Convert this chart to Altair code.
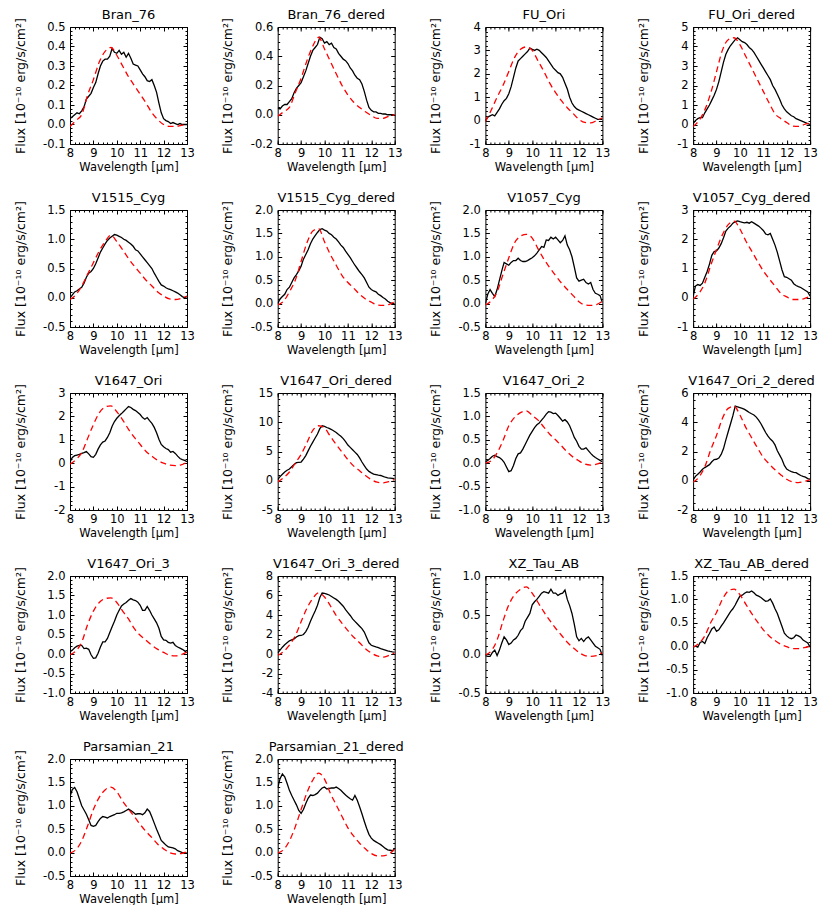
import math
import altair as alt
import pandas as pd

# ---------------- data ----------------
WAVE_OBS = [8.0, 8.1, 8.2, 8.3, 8.4, 8.5, 8.6, 8.7, 8.8, 8.9,
            9.0, 9.1, 9.2, 9.3, 9.4, 9.5, 9.6, 9.7, 9.8, 9.9,
            10.0, 10.1, 10.2, 10.3, 10.4, 10.5, 10.6, 10.7, 10.8, 10.9,
            11.0, 11.1, 11.2, 11.3, 11.4, 11.5, 11.6, 11.7, 11.8, 11.9,
            12.0, 12.1, 12.2, 12.3, 12.4, 12.5, 12.6, 12.7, 12.8, 12.9, 13.0]
WAVE_MODEL = [8.0, 8.25, 8.5, 8.75, 9.0, 9.25, 9.5, 9.75, 10.0, 10.25, 10.5,
              10.75, 11.0, 11.25, 11.5, 11.75, 12.0, 12.25, 12.5, 12.75, 13.0]

NAMES = ["Bran_76", "Bran_76_dered", "FU_Ori", "FU_Ori_dered",
         "V1515_Cyg", "V1515_Cyg_dered", "V1057_Cyg", "V1057_Cyg_dered",
         "V1647_Ori", "V1647_Ori_dered", "V1647_Ori_2", "V1647_Ori_2_dered",
         "V1647_Ori_3", "V1647_Ori_3_dered", "XZ_Tau_AB", "XZ_Tau_AB_dered",
         "Parsamian_21", "Parsamian_21_dered"]

Y_TICKS = [
    [-0.1, 0.0, 0.1, 0.2, 0.3, 0.4, 0.5],
    [-0.2, 0.0, 0.2, 0.4, 0.6],
    [-1, 0, 1, 2, 3, 4],
    [-1, 0, 1, 2, 3, 4, 5],
    [-0.5, 0.0, 0.5, 1.0, 1.5],
    [-0.5, 0.0, 0.5, 1.0, 1.5, 2.0],
    [-0.5, 0.0, 0.5, 1.0, 1.5, 2.0],
    [-1, 0, 1, 2, 3],
    [-2, -1, 0, 1, 2, 3],
    [-5, 0, 5, 10, 15],
    [-1.0, -0.5, 0.0, 0.5, 1.0, 1.5],
    [-2, 0, 2, 4, 6],
    [-1.0, -0.5, 0.0, 0.5, 1.0, 1.5, 2.0],
    [-4, -2, 0, 2, 4, 6, 8],
    [-0.5, 0.0, 0.5, 1.0],
    [-1.0, -0.5, 0.0, 0.5, 1.0, 1.5],
    [-0.5, 0.0, 0.5, 1.0, 1.5, 2.0],
    [-0.5, 0.0, 0.5, 1.0, 1.5, 2.0],
]

X_TICKS = [8, 9, 10, 11, 12, 13]

BRAN_76_OBS = [0.03, 0.04, 0.05, 0.06, 0.055, 0.07, 0.09, 0.13, 0.145, 0.16,
               0.19, 0.215, 0.26, 0.30, 0.325, 0.335, 0.335, 0.35, 0.39, 0.37,
               0.365, 0.38, 0.36, 0.37, 0.345, 0.365, 0.34, 0.31, 0.305, 0.30,
               0.28, 0.26, 0.245, 0.225, 0.22, 0.23, 0.20, 0.165, 0.11, 0.06,
               0.03, 0.02, 0.015, 0.005, 0.01, 0.005, 0.0, 0.005, 0.0, 0.0, 0.0]
BRAN_76_DERED_OBS = [0.045, 0.04, 0.06, 0.07, 0.07, 0.09, 0.11, 0.15, 0.18, 0.20,
                     0.22, 0.26, 0.30, 0.35, 0.40, 0.44, 0.46, 0.48, 0.53, 0.52,
                     0.49, 0.50, 0.48, 0.49, 0.46, 0.45, 0.42, 0.40, 0.38, 0.37,
                     0.35, 0.32, 0.30, 0.27, 0.25, 0.24, 0.21, 0.16, 0.10, 0.05,
                     0.03, 0.02, 0.02, 0.01, 0.01, 0.005, 0.005, 0.0, 0.0, 0.0, 0.0]
FU_ORI_OBS = [0.0, 0.15, 0.2, 0.25, 0.2, 0.35, 0.5, 0.7, 0.85, 0.95,
              1.15, 1.45, 1.85, 2.25, 2.55, 2.65, 2.75, 2.85, 2.95, 3.1,
              3.05, 3.0, 3.05, 3.0, 2.9, 2.8, 2.7, 2.55, 2.4, 2.25,
              2.15, 2.05, 2.0, 1.85, 1.6, 1.35, 1.0, 0.75, 0.6, 0.5,
              0.45, 0.4, 0.35, 0.3, 0.25, 0.2, 0.15, 0.1, 0.05, 0.05, 0.05]
FU_ORI_DERED_OBS = [0.05, 0.2, 0.3, 0.35, 0.35, 0.6, 0.8, 1.0, 1.25, 1.5,
                    1.8, 2.2, 2.7, 3.2, 3.6, 3.85, 4.05, 4.2, 4.35, 4.45,
                    4.35, 4.25, 4.2, 4.1, 3.95, 3.85, 3.7, 3.5, 3.3, 3.1,
                    2.9, 2.7, 2.5, 2.3, 2.0, 1.8, 1.55, 1.3, 1.0, 0.8,
                    0.65, 0.55, 0.45, 0.4, 0.3, 0.25, 0.2, 0.15, 0.1, 0.05, 0.0]
V1515_CYG_OBS = [0.0, 0.05, 0.1, 0.12, 0.15, 0.18, 0.25, 0.35, 0.42, 0.45,
                 0.5, 0.58, 0.68, 0.78, 0.85, 0.92, 0.98, 1.02, 1.05, 1.08,
                 1.07, 1.05, 1.03, 1.0, 0.98, 0.95, 0.92, 0.88, 0.82, 0.8,
                 0.75, 0.7, 0.65, 0.6, 0.55, 0.5, 0.42, 0.35, 0.28, 0.22,
                 0.2, 0.17, 0.15, 0.14, 0.12, 0.1, 0.08, 0.05, 0.02, 0.0, 0.02]
V1515_CYG_DERED_OBS = [0.0, 0.1, 0.15, 0.2, 0.3, 0.35, 0.45, 0.55, 0.62, 0.7,
                       0.8, 0.95, 1.05, 1.15, 1.28, 1.38, 1.45, 1.52, 1.58, 1.6,
                       1.57, 1.55, 1.5, 1.47, 1.42, 1.38, 1.32, 1.25, 1.2, 1.12,
                       1.05, 0.98, 0.9, 0.82, 0.75, 0.68, 0.62, 0.55, 0.45, 0.35,
                       0.3, 0.27, 0.25, 0.2, 0.17, 0.13, 0.1, 0.05, 0.02, 0.0, 0.0]
V1057_CYG_OBS = [0.0, 0.2, 0.3, 0.22, 0.15, 0.3, 0.5, 0.7, 0.88, 0.85,
                 0.82, 0.88, 0.92, 0.92, 0.97, 0.92, 0.9, 0.9, 0.92, 0.95,
                 0.98, 1.02, 1.08, 1.15, 1.22, 1.2, 1.36, 1.35, 1.42, 1.38,
                 1.42, 1.36, 1.3, 1.35, 1.45, 1.25, 1.15, 1.0, 0.78, 0.55,
                 0.48, 0.5, 0.52, 0.45, 0.42, 0.45, 0.3, 0.22, 0.2, 0.17, 0.02]
V1057_CYG_DERED_OBS = [0.05, 0.4, 0.45, 0.42, 0.5, 0.7, 0.9, 1.15, 1.45, 1.58,
                       1.6, 1.7, 1.85, 2.05, 2.28, 2.38, 2.45, 2.55, 2.6, 2.63,
                       2.6, 2.58, 2.56, 2.58, 2.55, 2.6, 2.55, 2.5, 2.45, 2.38,
                       2.3, 2.18, 2.15, 2.2, 2.0, 1.8, 1.55, 1.25, 0.95, 0.72,
                       0.7, 0.65, 0.6, 0.48, 0.42, 0.38, 0.35, 0.3, 0.25, 0.2, 0.05]
V1647_ORI_OBS = [0.05, 0.25, 0.32, 0.35, 0.38, 0.42, 0.45, 0.5, 0.4, 0.28,
                 0.25, 0.38, 0.6, 0.78, 0.9, 0.95, 1.1, 1.3, 1.58, 1.78,
                 1.92, 2.03, 2.12, 2.22, 2.32, 2.42, 2.38, 2.3, 2.25, 2.17,
                 2.08, 1.95, 1.88, 1.95, 1.82, 1.7, 1.53, 1.3, 1.02, 0.8,
                 0.7, 0.63, 0.58, 0.47, 0.5, 0.42, 0.3, 0.2, 0.15, 0.12, 0.06]
V1647_ORI_DERED_OBS = [0.2, 0.7, 1.1, 1.5, 1.8, 2.0, 2.4, 2.8, 3.1, 3.15,
                       3.2, 3.7, 4.3, 5.1, 5.9, 6.6, 7.3, 8.0, 8.9, 9.4,
                       9.3, 9.1, 8.95, 8.75, 8.5, 8.25, 7.9, 7.6, 7.2, 6.7,
                       6.1, 5.7, 5.3, 4.9, 4.5, 3.9, 3.2, 2.6, 2.0, 1.6,
                       1.35, 1.15, 1.05, 0.95, 0.9, 0.75, 0.6, 0.5, 0.45, 0.4, 0.35]
V1647_ORI_2_OBS = [0.03, 0.06, 0.1, 0.15, 0.17, 0.14, 0.12, 0.08, 0.02, -0.08,
                   -0.18, -0.16, -0.05, 0.1, 0.2, 0.22, 0.3, 0.4, 0.5, 0.6,
                   0.68, 0.76, 0.82, 0.86, 0.92, 0.98, 1.05, 1.1, 1.09, 1.06,
                   1.07, 1.02, 0.96, 0.9, 0.93, 0.88, 0.8, 0.68, 0.55, 0.47,
                   0.36, 0.3, 0.3, 0.33, 0.27, 0.21, 0.16, 0.12, 0.09, 0.06, 0.03]
V1647_ORI_2_DERED_OBS = [0.05, 0.3, 0.45, 0.6, 0.78, 0.9, 1.0, 1.1, 1.3, 1.45,
                         1.47, 1.55, 1.8, 2.2, 2.8, 3.35, 3.9, 4.45, 5.1, 5.05,
                         5.0, 4.95, 4.88, 4.78, 4.67, 4.58, 4.5, 4.35, 4.15, 3.9,
                         3.6, 3.3, 3.05, 2.85, 2.7, 2.45, 2.05, 1.75, 1.45, 1.05,
                         0.8, 0.7, 0.63, 0.58, 0.55, 0.45, 0.36, 0.3, 0.25, 0.15, 0.1]
V1647_ORI_3_OBS = [0.05, 0.1, 0.16, 0.2, 0.22, 0.22, 0.14, 0.15, 0.12, -0.02,
                   -0.11, -0.1, 0.02, 0.18, 0.31, 0.31, 0.4, 0.55, 0.7, 0.84,
                   1.0, 1.12, 1.23, 1.28, 1.32, 1.38, 1.42, 1.39, 1.37, 1.33,
                   1.25, 1.12, 1.12, 1.22, 1.12, 1.0, 0.9, 0.8, 0.66, 0.45,
                   0.36, 0.35, 0.3, 0.28, 0.3, 0.22, 0.18, 0.15, 0.12, 0.08, 0.03]
V1647_ORI_3_DERED_OBS = [0.1, 0.4, 0.7, 0.95, 1.15, 1.35, 1.45, 1.55, 1.75, 1.88,
                         1.9, 2.0, 2.3, 2.75, 3.35, 3.9, 4.4, 5.0, 5.8, 6.25,
                         6.22, 6.15, 6.05, 5.9, 5.75, 5.6, 5.4, 5.15, 4.9, 4.55,
                         4.25, 3.95, 3.6, 3.35, 3.1, 2.85, 2.6, 2.25, 1.7, 1.15,
                         0.9, 0.8, 0.72, 0.65, 0.55, 0.48, 0.4, 0.32, 0.26, 0.22, 0.2]
XZ_TAU_AB_OBS = [-0.02, -0.03, -0.03, 0.02, 0.05, -0.02, 0.05, 0.14, 0.22, 0.18,
                 0.12, 0.14, 0.18, 0.2, 0.24, 0.3, 0.33, 0.42, 0.47, 0.52,
                 0.63, 0.67, 0.7, 0.74, 0.78, 0.8, 0.79, 0.78, 0.83, 0.78,
                 0.78, 0.75, 0.77, 0.78, 0.82, 0.7, 0.62, 0.52, 0.38, 0.22,
                 0.17, 0.2, 0.16, 0.2, 0.22, 0.18, 0.14, 0.1, 0.08, 0.06, -0.02]
XZ_TAU_AB_DERED_OBS = [-0.02, 0.0, -0.02, 0.08, 0.1, 0.06, 0.18, 0.27, 0.37, 0.41,
                       0.32, 0.35, 0.43, 0.5, 0.58, 0.66, 0.74, 0.8, 0.88, 0.98,
                       1.07, 1.09, 1.13, 1.16, 1.15, 1.18, 1.14, 1.09, 1.07, 1.04,
                       1.0, 0.96, 0.97, 1.01, 0.92, 0.8, 0.7, 0.56, 0.42, 0.28,
                       0.22, 0.18, 0.16, 0.18, 0.24, 0.22, 0.19, 0.13, 0.1, 0.07, -0.02]
PARSAMIAN_21_OBS = [1.2, 1.35, 1.39, 1.3, 1.15, 1.0, 0.91, 0.82, 0.7, 0.58,
                    0.56, 0.58, 0.66, 0.73, 0.77, 0.76, 0.74, 0.77, 0.79, 0.81,
                    0.84, 0.84, 0.85, 0.87, 0.9, 0.93, 0.9, 0.86, 0.82, 0.83,
                    0.83, 0.81, 0.85, 0.93, 0.88, 0.76, 0.63, 0.5, 0.38, 0.26,
                    0.21, 0.16, 0.12, 0.11, 0.1, 0.08, 0.04, 0.02, 0.0, 0.0, -0.01]
PARSAMIAN_21_DERED_OBS = [1.38, 1.58, 1.68, 1.62, 1.48, 1.33, 1.22, 1.12, 1.02, 0.9,
                          0.84, 0.92, 1.05, 1.16, 1.23, 1.22, 1.24, 1.27, 1.33, 1.38,
                          1.4, 1.36, 1.37, 1.38, 1.38, 1.4, 1.37, 1.33, 1.28, 1.23,
                          1.19, 1.15, 1.12, 1.22, 1.12, 0.98, 0.83, 0.67, 0.52, 0.39,
                          0.31, 0.26, 0.23, 0.2, 0.17, 0.13, 0.09, 0.06, 0.05, 0.04, 0.08]

BRAN_76_MODEL = [-0.01, 0.02, 0.05, 0.15, 0.23, 0.32, 0.375, 0.395, 0.355, 0.30, 0.245,
                 0.20, 0.155, 0.11, 0.06, 0.025, 0.0, -0.01, -0.01, -0.005, 0.005]
BRAN_76_DERED_MODEL = [-0.01, 0.02, 0.05, 0.15, 0.25, 0.37, 0.47, 0.53, 0.45, 0.365, 0.28,
                       0.20, 0.135, 0.085, 0.05, 0.02, -0.005, -0.025, -0.025, -0.01, 0.0]
FU_ORI_MODEL = [-0.05, 0.45, 1.0, 1.5, 2.1, 2.7, 3.05, 3.15, 3.0, 2.55, 2.1,
                1.6, 1.2, 0.85, 0.55, 0.3, 0.05, -0.08, -0.1, 0.0, 0.12]
FU_ORI_DERED_MODEL = [-0.1, 0.2, 0.75, 1.6, 2.7, 3.8, 4.35, 4.45, 4.1, 3.5, 2.9,
                      2.3, 1.7, 1.1, 0.55, 0.3, 0.1, -0.08, -0.1, 0.0, 0.08]
V1515_CYG_MODEL = [-0.03, 0.05, 0.2, 0.4, 0.6, 0.8, 0.96, 1.07, 0.96, 0.82, 0.67,
                   0.54, 0.42, 0.3, 0.2, 0.1, 0.03, -0.02, -0.03, -0.01, 0.03]
V1515_CYG_DERED_MODEL = [-0.03, 0.05, 0.25, 0.5, 0.9, 1.3, 1.55, 1.6, 1.32, 1.05, 0.82,
                         0.6, 0.45, 0.33, 0.2, 0.1, 0.03, -0.03, -0.04, -0.02, 0.04]
V1057_CYG_MODEL = [-0.03, 0.06, 0.25, 0.62, 0.98, 1.3, 1.44, 1.48, 1.4, 1.17, 0.95,
                   0.77, 0.6, 0.44, 0.3, 0.17, 0.04, -0.03, -0.04, -0.02, 0.05]
V1057_CYG_DERED_MODEL = [-0.05, 0.15, 0.5, 1.1, 1.65, 2.15, 2.5, 2.62, 2.35, 1.95, 1.6,
                         1.25, 0.92, 0.65, 0.4, 0.15, 0.03, -0.06, -0.06, -0.03, 0.05]
V1647_ORI_MODEL = [-0.04, 0.15, 0.45, 1.05, 1.65, 2.15, 2.4, 2.45, 2.2, 1.85, 1.45,
                   1.1, 0.8, 0.5, 0.3, 0.12, 0.0, -0.08, -0.1, -0.07, 0.05]
V1647_ORI_DERED_MODEL = [-0.2, 0.5, 1.5, 3.0, 4.5, 6.5, 8.6, 9.4, 9.0, 7.6, 6.2,
                         4.9, 3.6, 2.5, 1.7, 0.9, 0.2, -0.25, -0.35, -0.15, 0.25]
V1647_ORI_2_MODEL = [0.0, 0.05, 0.22, 0.48, 0.8, 0.98, 1.08, 1.12, 1.02, 0.92, 0.77,
                     0.62, 0.5, 0.37, 0.24, 0.13, 0.05, -0.02, -0.04, -0.02, 0.03]
V1647_ORI_2_DERED_MODEL = [-0.1, 0.25, 0.95, 2.1, 3.1, 4.25, 4.95, 5.1, 4.5, 3.65, 2.95,
                           2.25, 1.6, 1.15, 0.75, 0.4, 0.1, -0.08, -0.13, -0.05, 0.06]
V1647_ORI_3_MODEL = [-0.02, 0.08, 0.3, 0.75, 1.1, 1.32, 1.42, 1.44, 1.32, 1.1, 0.9,
                     0.65, 0.48, 0.35, 0.22, 0.12, 0.04, -0.03, -0.05, -0.02, 0.05]
V1647_ORI_3_DERED_MODEL = [-0.15, 0.25, 0.9, 1.85, 3.3, 4.7, 5.7, 6.28, 5.85, 4.95, 3.95,
                           3.15, 2.4, 1.72, 1.15, 0.55, 0.1, -0.2, -0.32, -0.15, 0.13]
XZ_TAU_AB_MODEL = [-0.01, 0.04, 0.18, 0.42, 0.63, 0.76, 0.83, 0.86, 0.78, 0.66, 0.54,
                   0.43, 0.33, 0.24, 0.15, 0.08, 0.02, -0.02, -0.03, -0.02, 0.02]
XZ_TAU_AB_DERED_MODEL = [-0.02, 0.06, 0.22, 0.5, 0.72, 1.0, 1.18, 1.22, 1.1, 0.9, 0.7,
                         0.52, 0.35, 0.22, 0.12, 0.04, -0.01, -0.05, -0.05, -0.03, 0.0]
PARSAMIAN_21_MODEL = [-0.01, 0.06, 0.25, 0.57, 0.92, 1.18, 1.34, 1.4, 1.3, 1.1, 0.93,
                      0.77, 0.6, 0.45, 0.32, 0.18, 0.08, 0.0, -0.03, -0.02, 0.02]
PARSAMIAN_21_DERED_MODEL = [-0.01, 0.06, 0.25, 0.55, 0.92, 1.28, 1.55, 1.7, 1.57, 1.27, 1.02,
                            0.77, 0.53, 0.35, 0.2, 0.08, -0.02, -0.07, -0.07, -0.03, 0.07]

OBS = [BRAN_76_OBS, BRAN_76_DERED_OBS, FU_ORI_OBS, FU_ORI_DERED_OBS,
       V1515_CYG_OBS, V1515_CYG_DERED_OBS, V1057_CYG_OBS, V1057_CYG_DERED_OBS,
       V1647_ORI_OBS, V1647_ORI_DERED_OBS, V1647_ORI_2_OBS, V1647_ORI_2_DERED_OBS,
       V1647_ORI_3_OBS, V1647_ORI_3_DERED_OBS, XZ_TAU_AB_OBS, XZ_TAU_AB_DERED_OBS,
       PARSAMIAN_21_OBS, PARSAMIAN_21_DERED_OBS]
MODELS = [BRAN_76_MODEL, BRAN_76_DERED_MODEL, FU_ORI_MODEL, FU_ORI_DERED_MODEL,
          V1515_CYG_MODEL, V1515_CYG_DERED_MODEL, V1057_CYG_MODEL, V1057_CYG_DERED_MODEL,
          V1647_ORI_MODEL, V1647_ORI_DERED_MODEL, V1647_ORI_2_MODEL, V1647_ORI_2_DERED_MODEL,
          V1647_ORI_3_MODEL, V1647_ORI_3_DERED_MODEL, XZ_TAU_AB_MODEL, XZ_TAU_AB_DERED_MODEL,
          PARSAMIAN_21_MODEL, PARSAMIAN_21_DERED_MODEL]

Y_TITLE = "Flux [10\u207b\u00b9\u2070 erg/s/cm\u00b2]"
X_TITLE = "Wavelength [\u03bcm]"

# ---------------- layout / style ----------------
W = 117
H = 117
FONT = "DejaVu Sans"
MAJ = 4
MIN = 2
LABEL_EXPR = "replace(datum.label, '\u2212', '-')"
X_MINOR = [round(8 + 0.2 * i, 6) for i in range(26)]


def minor_values(ticks):
    step = round(ticks[1] - ticks[0], 6)
    mant = round(step / 10 ** math.floor(math.log10(step)), 6)
    nsub = 4 if mant == 2 else 5
    n = (len(ticks) - 1) * nsub
    return [round(ticks[0] + i * step / nsub, 6) for i in range(n + 1)]


def tick_axis(orient, values, size):
    return alt.Axis(orient=orient, values=values, tickSize=size, offset=-size,
                    labels=False, title=None, minExtent=0, maxExtent=0)


def panel(name, obs, model, yticks):
    step = round(yticks[1] - yticks[0], 6)
    fmt = ".1f" if step < 1 else "d"
    ydom = [yticks[0], yticks[-1]]
    xs = alt.Scale(domain=[8, 13], nice=False, zero=False)
    ys = alt.Scale(domain=ydom, nice=False, zero=False)
    d_obs = pd.DataFrame({"wl": WAVE_OBS, "flux": obs})
    d_mod = pd.DataFrame({"wl": WAVE_MODEL, "flux": model})
    d_name = pd.DataFrame({"name": [name]})
    ymin = minor_values(yticks)

    obs_line = alt.Chart(d_obs).mark_line(color="black", strokeWidth=1.3, clip=True).encode(
        x=alt.X("wl:Q", scale=xs, axis=alt.Axis(
            orient="bottom", values=X_TICKS, format="d", tickSize=MAJ, offset=-MAJ,
            labelPadding=3, title=X_TITLE, titleX=W / 2, titleY=23 + MAJ,
            titleFontSize=11.5, titleBaseline="middle", titleAlign="center",
            minExtent=0)),
        y=alt.Y("flux:Q", scale=ys, axis=alt.Axis(
            orient="left", values=yticks, format=fmt, labelExpr=LABEL_EXPR,
            tickSize=MAJ, offset=-MAJ, labelPadding=5, title=Y_TITLE,
            titleFontSize=12.5, titleX=-50 - MAJ, titleY=H / 2, titleAngle=270,
            titleBaseline="middle", titleAlign="center", minExtent=0)),
    )
    mod_line = alt.Chart(d_mod).mark_line(color="red", strokeWidth=1.3, strokeDash=[6, 4],
                                          interpolate="monotone", clip=True).encode(
        x=alt.X("wl:Q", scale=xs, axis=tick_axis("top", X_TICKS, MAJ)),
        y=alt.Y("flux:Q", scale=ys, axis=tick_axis("right", yticks, MAJ)),
    )
    minor_a = alt.Chart(d_mod).mark_line(strokeOpacity=0, clip=True).encode(
        x=alt.X("wl:Q", scale=xs, axis=tick_axis("bottom", X_MINOR, MIN)),
        y=alt.Y("flux:Q", scale=ys, axis=tick_axis("left", ymin, MIN)),
    )
    minor_b = alt.Chart(d_mod).mark_line(strokeOpacity=0, clip=True).encode(
        x=alt.X("wl:Q", scale=xs, axis=tick_axis("top", X_MINOR, MIN)),
        y=alt.Y("flux:Q", scale=ys, axis=tick_axis("right", ymin, MIN)),
    )
    title = alt.Chart(d_name).mark_text(
        font=FONT, fontSize=13, fontWeight="normal", color="black",
        align="center", baseline="alphabetic"
    ).encode(x=alt.value(W / 2), y=alt.value(-8), text="name:N")
    return alt.layer(minor_a, minor_b, obs_line, mod_line, title).resolve_scale(
        x="independent", y="independent"
    ).properties(width=W, height=H)


panels = [panel(n, o, m, t) for n, o, m, t in zip(NAMES, OBS, MODELS, Y_TICKS)]

chart = alt.concat(
    *panels, columns=4, spacing={"row": 66, "column": 90.7}, bounds="flush"
).properties(
    padding={"left": 5, "top": 0, "right": 0, "bottom": 0}
).configure_view(
    stroke="black", strokeWidth=1
).configure_axis(
    labelFont=FONT, labelFontSize=11.5, labelColor="black", labelFlush=False,
    labelOverlap=False, labelBound=False, tickColor="black", tickWidth=1,
    domain=False, grid=False,
    titleFont=FONT, titleFontWeight="normal", titleColor="black",
)

chart.save("out.html", embed_options={"renderer": "svg", "actions": False})
